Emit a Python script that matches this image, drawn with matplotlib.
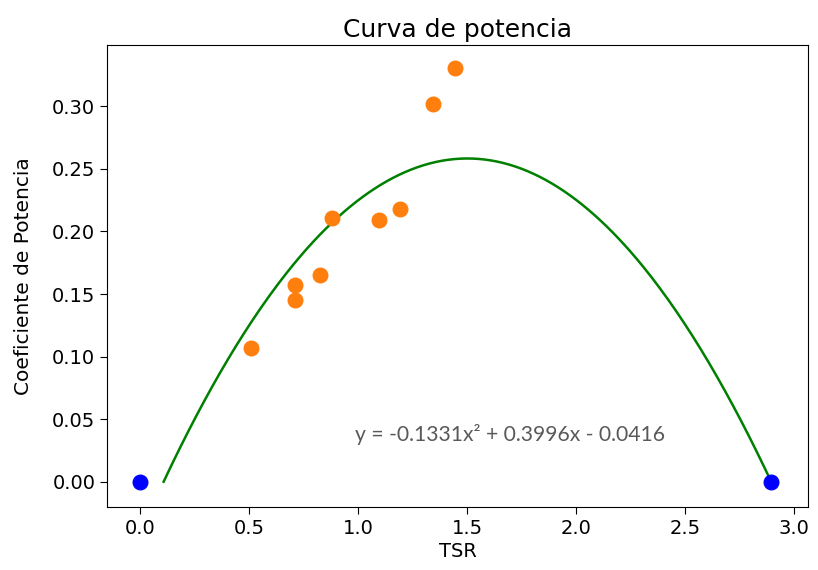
import numpy as np
import matplotlib
matplotlib.use("Agg")
import matplotlib.pyplot as plt

# Data
tsr = [0.509, 0.711, 0.711, 0.826, 0.881, 1.096, 1.193, 1.344, 1.445]
cp = [0.107, 0.157, 0.145, 0.165, 0.211, 0.209, 0.218, 0.302, 0.331]
tsr_zero = [0.0, 2.894]
cp_zero = [0.0, 0.0]
coef = [-0.1331, 0.3996, -0.0416]
eq_text = "y = -0.1331x² + 0.3996x - 0.0416"

fig = plt.figure(figsize=(8.18, 5.70), dpi=100)
ax = fig.add_axes([0.131, 0.111, 0.857, 0.810])

roots = np.sort(np.roots(coef).real)
xc = np.linspace(roots[0], roots[1], 300)
ax.plot(xc, np.polyval(coef, xc), color="green", lw=1.8)
ax.scatter(tsr, cp, color="#ff7f0e", s=110, zorder=3)
ax.scatter(tsr_zero, cp_zero, color="blue", s=110, zorder=3)

ax.text(0.986, 0.0375, eq_text, fontsize=15.2, color="#595959",
        family="Lato", va="center", ha="left")

ax.set_title("Curva de potencia", fontsize=18)
ax.set_xlabel("TSR", fontsize=14, labelpad=3)
ax.set_ylabel("Coeficiente de Potencia", fontsize=14.5, labelpad=14)
ax.tick_params(labelsize=14, length=5)
ax.set_xticks([0.0, 0.5, 1.0, 1.5, 2.0, 2.5, 3.0])
ax.set_yticks([0.0, 0.05, 0.10, 0.15, 0.20, 0.25, 0.30])
ax.set_xlim(-0.151, 3.064)
ax.set_ylim(-0.020, 0.349)

fig.savefig("out.png", dpi=100)
